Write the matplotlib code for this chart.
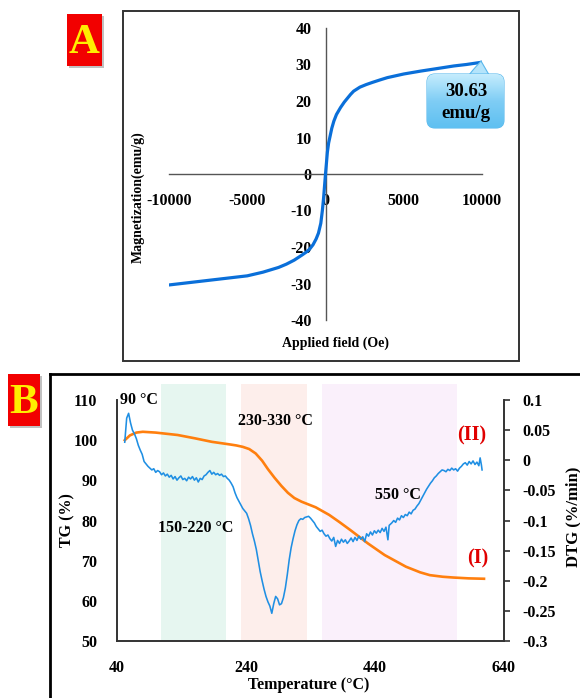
import numpy as np
import matplotlib
matplotlib.use("Agg")
import matplotlib.pyplot as plt
from matplotlib.patches import FancyBboxPatch, Rectangle, Polygon
from matplotlib.lines import Line2D
from matplotlib.colors import LinearSegmentedColormap

plt.rcParams['font.family'] = ['Liberation Serif', 'DejaVu Serif']
plt.rcParams['font.weight'] = 'bold'
plt.rcParams['axes.unicode_minus'] = False

# ---------------- data: panel A (VSM) ----------------
field = [-10000, -9000, -8000, -7000, -6000, -5000, -4000, -3000, -2500, -2000, -1500, -1200,
         -1000, -800, -600, -450, -300, -200, -120, -60, 0,
         60, 120, 200, 275, 400, 535, 700, 960, 1200, 1390, 1600, 1800, 2200, 2600, 3000,
         3500, 3950, 5000, 6090, 7000, 8200, 9000, 10000]
magnet = [-30.4, -29.9, -29.4, -28.9, -28.4, -27.9, -26.9, -25.6, -24.7, -23.6, -22.2, -21.3,
          -20.5, -19.4, -17.8, -16.2, -13.5, -10.0, -6.5, -3.2, 0.0,
          3.0, 6.0, 8.5, 10.0, 12.5, 14.5, 16.3, 18.2, 19.7, 20.7, 21.8, 22.7, 23.8, 24.5, 25.1,
          25.8, 26.4, 27.4, 28.2, 28.8, 29.6, 30.0, 30.63]
a_xticks = [-10000, -5000, 0, 5000, 10000]
a_yticks = [-40, -30, -20, -10, 0, 10, 20, 30, 40]
ms_label = ["30.63", "emu/g"]

# ---------------- data: panel B (TGA / DTG) ----------------
tg_temp = [52, 60, 70, 80, 100, 134, 160, 187, 200, 215, 225, 235, 245, 255, 265, 274, 284, 295,
           305, 315, 326, 337, 348, 369, 385, 402, 429, 455, 488, 510, 525, 545, 562, 585, 609]
tg_val = [100.0, 101.2, 101.9, 102.1, 101.9, 101.3, 100.5, 99.6, 99.3, 98.95, 98.7, 98.35, 97.8,
          96.7, 94.9, 92.8, 90.7, 88.6, 86.9, 85.6, 84.7, 84.0, 83.3, 81.4, 79.6, 77.6, 74.3, 71.4,
          68.5, 67.1, 66.4, 66.0, 65.8, 65.6, 65.5]

dtg_temp = [52, 55, 58, 61, 64, 67, 70, 73, 76, 79, 82, 85, 88, 91, 94, 97, 100, 103, 106, 109,
            112, 115, 118, 121, 124, 127, 130, 133, 136, 139, 142, 145, 148, 151, 154, 157, 160,
            163, 166, 169, 172, 175, 178, 181, 184, 187, 190, 193, 196, 199, 202, 205, 208, 211,
            214, 217, 220, 223, 226, 229, 232, 235, 238, 241, 244, 247, 250, 253, 256, 259, 262,
            265, 268, 271, 274, 277, 280, 283, 286, 289, 292, 295, 298, 301, 304, 307, 310, 313,
            316, 319, 322, 325, 328, 331, 334, 337, 340, 343, 346, 349, 352, 355, 358, 361, 364,
            367, 370, 373, 376, 379, 382, 385, 388, 391, 394, 397, 400, 403, 406, 409, 412, 415,
            418, 421, 424, 427, 430, 433, 436, 439, 442, 445, 448, 451, 454, 457, 460, 462, 466,
            469, 472, 475, 478, 481, 484, 487, 490, 493, 496, 499, 502, 505, 508, 511, 514, 517,
            520, 523, 526, 529, 532, 535, 538, 541, 544, 547, 550, 553, 556, 559, 562, 565, 568,
            571, 574, 577, 580, 583, 586, 589, 592, 595, 598, 601, 603, 605, 606]
dtg_val = [0.030, 0.070, 0.078, 0.062, 0.050, 0.044, 0.036, 0.025, 0.017, 0.010, -0.002, -0.006,
           -0.010, -0.013, -0.016, -0.014, -0.020, -0.017, -0.019, -0.024, -0.021, -0.026, -0.023,
           -0.028, -0.025, -0.031, -0.027, -0.033, -0.029, -0.026, -0.032, -0.030, -0.034, -0.028,
           -0.031, -0.027, -0.033, -0.029, -0.036, -0.030, -0.032, -0.026, -0.024, -0.020, -0.017,
           -0.023, -0.020, -0.024, -0.022, -0.025, -0.023, -0.027, -0.026, -0.030, -0.033, -0.038,
           -0.044, -0.054, -0.062, -0.068, -0.074, -0.080, -0.084, -0.088, -0.097, -0.108, -0.122,
           -0.134, -0.148, -0.166, -0.185, -0.200, -0.214, -0.226, -0.235, -0.242, -0.254, -0.238,
           -0.226, -0.230, -0.240, -0.238, -0.228, -0.212, -0.190, -0.165, -0.145, -0.130, -0.117,
           -0.107, -0.100, -0.097, -0.098, -0.095, -0.094, -0.093, -0.096, -0.100, -0.104, -0.110,
           -0.114, -0.118, -0.116, -0.122, -0.126, -0.124, -0.130, -0.134, -0.128, -0.143, -0.133,
           -0.138, -0.131, -0.136, -0.132, -0.138, -0.134, -0.129, -0.135, -0.128, -0.133, -0.126,
           -0.131, -0.127, -0.135, -0.122, -0.126, -0.119, -0.124, -0.117, -0.121, -0.116, -0.120,
           -0.113, -0.118, -0.111, -0.132, -0.108, -0.104, -0.100, -0.103, -0.096, -0.099, -0.092,
           -0.095, -0.090, -0.092, -0.086, -0.089, -0.083, -0.081, -0.076, -0.072, -0.066, -0.060,
           -0.054, -0.048, -0.043, -0.038, -0.034, -0.029, -0.026, -0.022, -0.019, -0.016, -0.017,
           -0.019, -0.015, -0.017, -0.013, -0.016, -0.014, -0.018, -0.013, -0.010, -0.006, -0.004,
           -0.008, -0.002, -0.006, -0.001, -0.007, -0.003, -0.009, 0.004, -0.008, -0.016]

b_xticks = [40, 240, 440, 640]
b_yticks = [50, 60, 70, 80, 90, 100, 110]
b_y2ticks = [0.1, 0.05, 0.0, -0.05, -0.1, -0.15, -0.2, -0.25, -0.3]
b_y2labels = ["0.1", "0.05", "0", "-0.05", "-0.1", "-0.15", "-0.2", "-0.25", "-0.3"]
regions = [(108, 209), (233, 335), (358, 567)]
region_colors = ["#e6f6f0", "#fdeeeb", "#faf0fb"]
region_texts = [("90 °C", 120, 400, 'left'), ("230-330 °C", 275, 421, 'center'),
                ("150-220 °C", 196, 528, 'center'), ("550 °C", 398, 495, 'center')]

W, H = 580, 698
fig = plt.figure(figsize=(W / 100, H / 100), dpi=100)


def fr(x0, y0, x1, y1):
    return [x0 / W, 1 - y1 / H, (x1 - x0) / W, (y1 - y0) / H]


# ---------------- panel A ----------------
axA = fig.add_axes(fr(169, 28, 482, 320))
axA.plot(field, magnet, color="#0a6fd9", lw=2.3, solid_capstyle='round',
         solid_joinstyle='round', zorder=3)
axA.set_xlim(-10000, 10000)
axA.set_ylim(-40, 40)
axA.spines['left'].set_position(('data', 0))
axA.spines['bottom'].set_position(('data', 0))
for s in ['top', 'right']:
    axA.spines[s].set_visible(False)
for s in ['left', 'bottom']:
    axA.spines[s].set_color('#555555')
    axA.spines[s].set_linewidth(1.0)
axA.set_facecolor('none')
axA.set_xticks(a_xticks)
axA.set_xticklabels([str(v) for v in a_xticks])
axA.set_yticks(a_yticks)
axA.set_yticklabels([str(v) for v in a_yticks])
axA.tick_params(axis='both', length=0, labelsize=11.5)
axA.tick_params(axis='x', pad=14)
axA.tick_params(axis='y', pad=10)

# ---------------- panel B ----------------
ymax_b = 114.0
axB = fig.add_axes(fr(117, 384, 504, 641))
axB.set_xlim(40, 640)
axB.set_ylim(50, ymax_b)
for (a, b), c in zip(regions, region_colors):
    axB.axvspan(a, b, color=c, lw=0, zorder=0)
axB.plot(tg_temp, tg_val, color="#ff7f0e", lw=1.9, solid_joinstyle='round', zorder=3)
axB.spines['top'].set_visible(False)
axB.spines['right'].set_visible(False)
axB.spines['left'].set_bounds(50, 110)
for s in ['left', 'bottom']:
    axB.spines[s].set_color('#333333')
    axB.spines[s].set_linewidth(1.4)
axB.set_xticks(b_xticks)
axB.set_xticklabels([str(v) for v in b_xticks])
axB.set_yticks(b_yticks)
axB.set_yticklabels([str(v) for v in b_yticks])
axB.tick_params(axis='both', length=0, labelsize=11.5)
axB.tick_params(axis='x', pad=14)
axB.tick_params(axis='y', pad=14)

axB2 = axB.twinx()
y2_top = -0.3 + 0.4 * (ymax_b - 50) / 60.0
axB2.set_ylim(-0.3, y2_top)
axB2.plot(dtg_temp, dtg_val, color="#1f8fe3", lw=1.15, zorder=4)
for s in ['top', 'left', 'bottom']:
    axB2.spines[s].set_visible(False)
axB2.spines['right'].set_bounds(-0.3, 0.1)
axB2.spines['right'].set_color('#333333')
axB2.spines['right'].set_linewidth(1.4)
axB2.set_yticks(b_y2ticks)
axB2.set_yticklabels(b_y2labels)
axB2.tick_params(axis='y', length=4, width=1.2, direction='out', pad=9, labelsize=11.5,
                 color='#333333')
for lab in (axB.get_xticklabels() + axB.get_yticklabels() + axB2.get_yticklabels() +
            axA.get_xticklabels() + axA.get_yticklabels()):
    lab.set_fontweight('bold')

# ---------------- overlay (pixel coords) ----------------
ov = fig.add_axes([0, 0, 1, 1], zorder=10)
ov.set_xlim(0, W)
ov.set_ylim(H, 0)
ov.axis('off')
ov.set_facecolor('none')

# frames
ov.add_patch(Rectangle((123, 11), 396, 350, fill=False, ec='#333333', lw=1.4))
ov.add_line(Line2D([50, 600], [374, 374], color='black', lw=2.0))
ov.add_line(Line2D([50, 50], [374, 720], color='black', lw=2.0))

# panel letters
for (x0, y0, x1, y1, letter) in [(67, 14, 102, 66, "A"), (8, 374, 40, 426, "B")]:
    ov.add_patch(Rectangle((x0 + 2, y0 + 2), x1 - x0, y1 - y0, color='#999999', alpha=0.6, lw=0))
    ov.add_patch(Rectangle((x0, y0), x1 - x0, y1 - y0, color='#f20000', lw=0))
    ov.text((x0 + x1) / 2, (y0 + y1) / 2 + 3, letter, color='#ffee00', fontsize=31,
            fontweight='bold', ha='center', va='center')

# axis labels panel A
ov.text(138, 197, "Magnetization(emu/g)", rotation=90, fontsize=10, fontweight='bold',
        ha='center', va='center')
ov.text(336, 343, "Applied field (Oe)", fontsize=10, fontweight='bold', ha='center', va='center')

# callout
ov.add_patch(Polygon([(465, 80), (473, 70), (481, 61), (492, 80)], closed=True,
                     fc='#b4e4fb', ec='#5ab8ec', lw=0.8))
box = FancyBboxPatch((427, 74), 77, 54, boxstyle="round,pad=0,rounding_size=8",
                     fc='#8fd4f7', ec='#5ab8ec', lw=0.8)
ov.add_patch(box)
grad = np.linspace(0, 1, 64).reshape(-1, 1)
cmap = LinearSegmentedColormap.from_list('cb', ['#c4ecfd', '#7fcdf5', '#5fc0f1'])
im = ov.imshow(grad, extent=[427, 504, 128, 74], cmap=cmap, aspect='auto', zorder=2)
im.set_clip_path(box)
ov.text(466, 92, ms_label[0], fontsize=13.5, fontweight='bold', ha='center', va='center', zorder=5)
ov.text(466, 113, ms_label[1], fontsize=13.5, fontweight='bold', ha='center', va='center', zorder=5)
ov.set_xlim(0, W)
ov.set_ylim(H, 0)

# panel B labels
ov.text(309, 685, "Temperature (°C)", fontsize=11.5, fontweight='bold', ha='center', va='center')
ov.text(67, 520, "TG (%)", rotation=90, fontsize=11.5, fontweight='bold', ha='center', va='center')
ov.text(573, 517, "DTG (%/min)", rotation=90, fontsize=12, fontweight='bold', ha='center', va='center')
for t, x, y, ha in region_texts:
    ov.text(x, y, t, fontsize=11.5, fontweight='bold', ha=ha, va='center')
ov.text(472, 435, "(II)", fontsize=14.5, fontweight='bold', color='#e00000', ha='center', va='center')
ov.text(478, 558, "(I)", fontsize=14.5, fontweight='bold', color='#e00000', ha='center', va='center')

fig.savefig("out.png", dpi=100)
